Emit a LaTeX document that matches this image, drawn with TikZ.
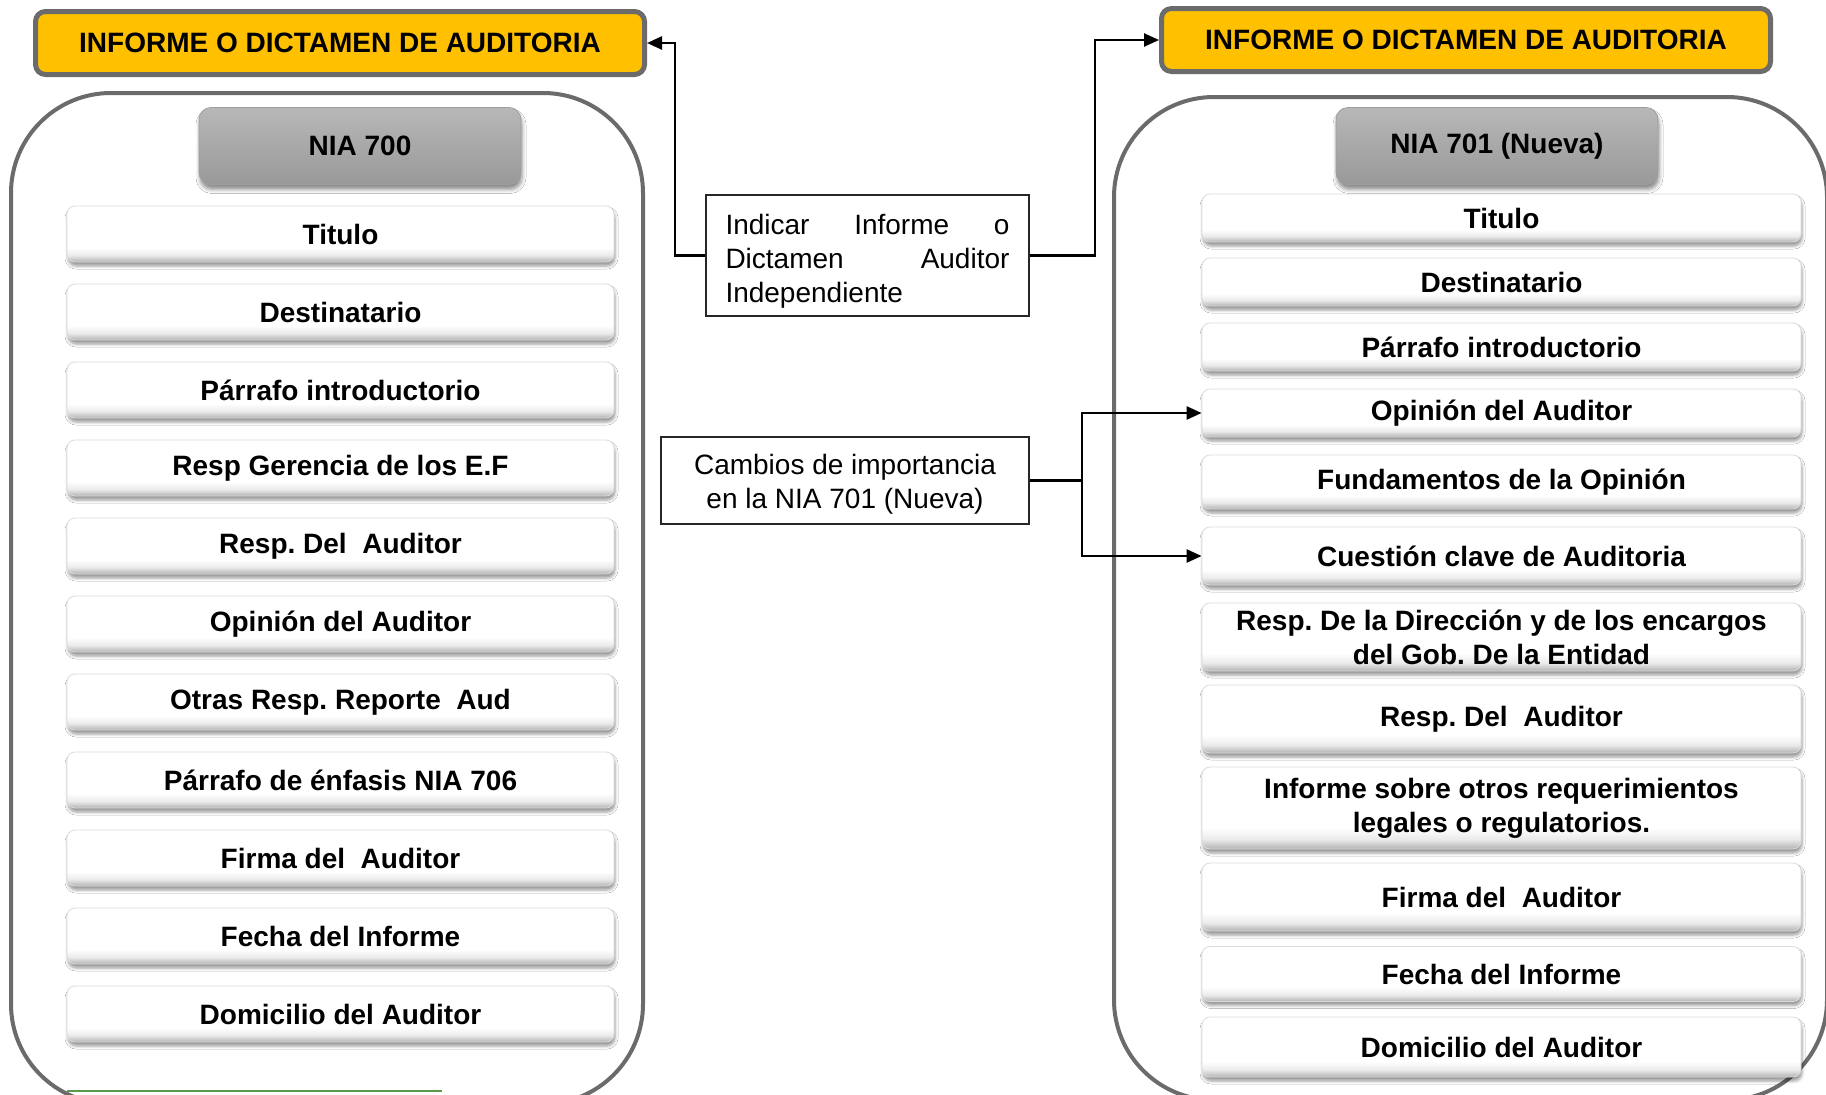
\documentclass[tikz,border=0pt]{standalone}
\usepackage{fontspec}
\setmainfont{Liberation Sans}
\usetikzlibrary{arrows.meta,shadows.blur}

\definecolor{headyellow}{HTML}{FFC000}
\definecolor{framegray}{HTML}{6B6B6B}
\definecolor{greenline}{HTML}{5A9A4A}

\pgfdeclareverticalshading{itemshade}{100bp}{color(0bp)=(black!30); color(25bp)=(black!30); color(31bp)=(black!8); color(38bp)=(white); color(100bp)=(white)}

\frenchspacing

\begin{document}
\begin{tikzpicture}[x=1pt, y=-1pt]
  \tikzstyle{header}=[draw=framegray, line width=5pt, fill=headyellow, rounded corners=10pt,
    minimum width=609pt, minimum height=63pt, inner sep=0pt, font=\fontsize{28}{34}\selectfont\bfseries]
  \tikzstyle{nia}=[draw=black!38, line width=0.8pt, top color=black!28, bottom color=black!40,
    rounded corners=12pt, minimum width=322pt, minimum height=77pt, inner sep=0pt,
    font=\fontsize{28}{34}\selectfont\bfseries,
    blur shadow={shadow xshift=1pt, shadow yshift=-5pt, shadow blur radius=4pt, shadow opacity=45}]
  \tikzstyle{item}=[draw=black!14, line width=0.8pt, shade, shading=itemshade, rounded corners=8pt,
    minimum height=56pt, inner sep=0pt, align=center, font=\fontsize{28}{34}\selectfont\bfseries,
    blur shadow={shadow xshift=1pt, shadow yshift=-4pt, shadow blur radius=3pt, shadow opacity=40}]
  \tikzstyle{leftitem}=[item, minimum width=547pt]
  \tikzstyle{rightitem}=[item, minimum width=599pt]
  \tikzstyle{note}=[draw=black!85, line width=2pt, fill=white, inner sep=0pt,
    font=\fontsize{28}{34}\selectfont]
  \tikzstyle{panel}=[draw=framegray, line width=4pt, fill=white, rounded corners=100pt]
  \tikzstyle{link}=[draw=black, line width=2.5pt]
  \tikzstyle{tolink}=[link, -{Triangle[length=15pt, width=13pt]}]

  \useasboundingbox (0, 0) rectangle (1826, 1095);

  % marcos
  \draw[panel] (11, 93) rectangle (643, 1104);
  \draw[panel] (1114, 97) rectangle (1827, 1100);
  \draw[greenline, line width=2.5pt] (67, 1091) -- (442, 1091);

  \node[header] (head700) at (340, 43) {INFORME O DICTAMEN DE AUDITORIA};
  \node[header] (head701) at (1466, 40) {INFORME O DICTAMEN DE AUDITORIA};

  \node[nia] (nia700) at (360, 146) {NIA 700};
  \node[nia] (nia701) at (1497, 146) {NIA 701 (Nueva)};

  % NIA 700
  \foreach \t [count=\i] in {Titulo, Destinatario, Párrafo introductorio, Resp Gerencia de los E.F,
      Resp. Del~ Auditor, Opinión del Auditor, Otras Resp. Reporte~ Aud, Párrafo de énfasis NIA 706,
      Firma del~ Auditor, Fecha del Informe, Domicilio del Auditor} {
    \node[leftitem] (l\i) at (340.5, 156 + 78*\i) {\t};
  }

  % NIA 701
  \node[rightitem, minimum height=48pt] (r1) at (1501.5, 218) {Titulo};
  \node[rightitem, minimum height=48pt] (r2) at (1501.5, 282) {Destinatario};
  \node[rightitem, minimum height=48pt] (r3) at (1501.5, 347) {Párrafo introductorio};
  \node[rightitem, minimum height=48pt] (r4) at (1501.5, 413) {Opinión del Auditor};
  \node[rightitem, minimum height=54pt] (r5) at (1501.5, 482) {Fundamentos de la Opinión};
  \node[rightitem, minimum height=58pt] (r6) at (1501.5, 556) {Cuestión clave de Auditoria};
  \node[rightitem, minimum height=68pt] (r7) at (1501.5, 637) {Resp. De la Dirección y de los encargos\\del Gob. De la Entidad};
  \node[rightitem, minimum height=68pt] (r8) at (1501.5, 719) {Resp. Del~ Auditor};
  \node[rightitem, minimum height=82pt] (r9) at (1501.5, 808) {Informe sobre otros requerimientos\\legales o regulatorios.};
  \node[rightitem, minimum height=68pt] (r10) at (1501.5, 897) {Firma del~ Auditor};
  \node[rightitem, minimum height=55pt] (r11) at (1501.5, 974) {Fecha del Informe};
  \node[rightitem, minimum height=60pt] (r12) at (1501.5, 1047) {Domicilio del Auditor};

  % notas
  \node[note, minimum width=323pt, minimum height=121pt, text width=284pt, align=left] (indicar) at (867.5, 255.5)
    {\rule{0pt}{31pt}Indicar\hfill Informe\hfill o\\Dictamen\hfill Auditor\\Independiente};
  \node[note, minimum width=368pt, minimum height=87pt, align=center] (cambios) at (845, 480.5)
    {\rule{0pt}{28pt}Cambios de importancia\\en la NIA 701 (Nueva)};

  \draw[tolink] (indicar.west) -- ++(-30, 0) |- (head700.east);
  \draw[tolink] (indicar.east) -- ++(65, 0) |- (head701.west);
  \draw[link] (cambios.east) -- ++(52, 0) coordinate (fork);
  \draw[tolink] (fork) |- (r4.west);
  \draw[tolink] (fork) |- (r6.west);
\end{tikzpicture}
\end{document}
